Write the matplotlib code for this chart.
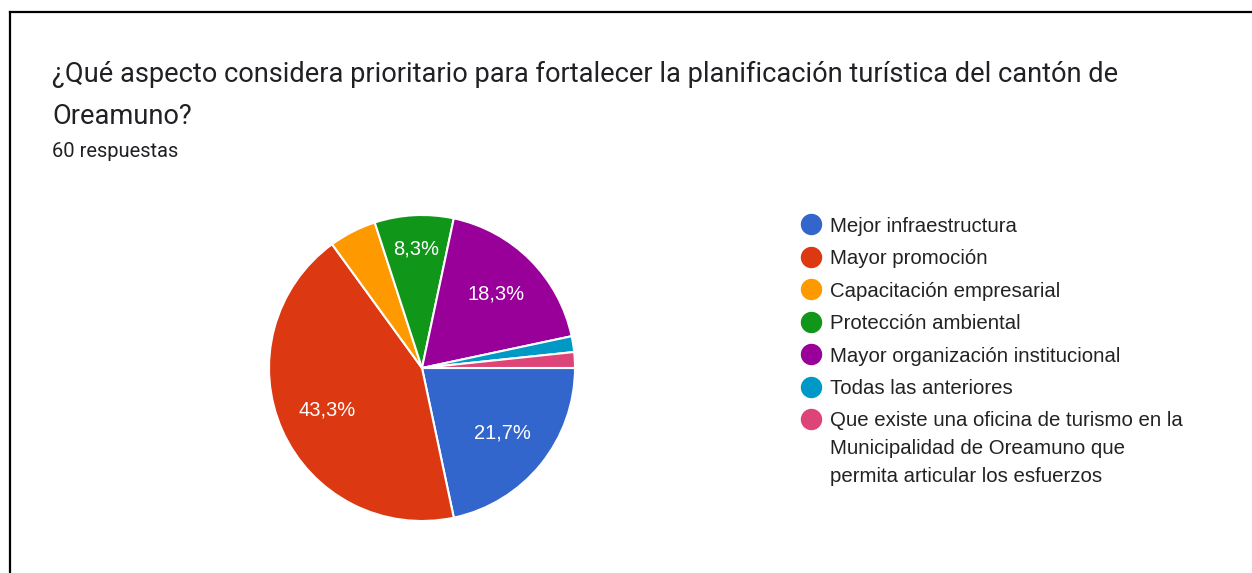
import matplotlib
matplotlib.use("Agg")
import matplotlib.pyplot as plt
from matplotlib.lines import Line2D
import numpy as np

plt.rcParams['font.family'] = ['Roboto', 'DejaVu Sans']

# datos (60 respuestas)
categorias = ["Mejor infraestructura",
              "Mayor promoción",
              "Capacitación empresarial",
              "Protección ambiental",
              "Mayor organización institucional",
              "Todas las anteriores",
              "Que existe una oficina de turismo en la\nMunicipalidad de Oreamuno que\npermita articular los esfuerzos"]
respuestas = [13, 26, 3, 5, 11, 1, 1]
colores = ["#3366cc", "#dc3912", "#ff9900", "#109618", "#990099", "#0099c6", "#dd4477"]

titulo = "¿Qué aspecto considera prioritario para fortalecer la planificación turística del cantón de\nOreamuno?"
subtitulo = "60 respuestas"

W, H = 1252, 573
fig = plt.figure(figsize=(W / 100, H / 100), dpi=100)
fig.patch.set_facecolor("white")

def fx(x):
    return x / W

def fy(y):
    return 1 - y / H

# marco
fig.add_artist(Line2D([fx(10), fx(10)], [fy(12), fy(H)], color="black", lw=1.6))
fig.add_artist(Line2D([fx(10), fx(W)], [fy(12), fy(12)], color="black", lw=1.6))

# titulos
lineas = titulo.split("\n")
fig.text(fx(52), fy(82), lineas[0], fontsize=19.6, color="#202124", va="baseline")
fig.text(fx(52), fy(124), lineas[1], fontsize=19.6, color="#202124", va="baseline")
fig.text(fx(52), fy(157), subtitulo, fontsize=14.5, color="#202124", va="baseline")

# pastel
cx, cy, r = 422, 368, 153
ax = fig.add_axes([fx(cx - r), fy(cy + r), 2 * r / W, 2 * r / H])
total = sum(respuestas)
wedges, _ = ax.pie(respuestas, colors=colores, startangle=0, counterclock=False,
                   wedgeprops=dict(edgecolor="white", linewidth=1.5))
ax.set_xlim(-1, 1)
ax.set_ylim(-1, 1)
ax.axis("off")

for w, v in zip(wedges, respuestas):
    pct = 100 * v / total
    if pct < 6:
        continue
    dist = 0.68 if pct > 10 else 0.78
    ang = np.deg2rad((w.theta1 + w.theta2) / 2)
    etiqueta = ("%.1f%%" % pct).replace(".", ",")
    ax.text(dist * np.cos(ang), dist * np.sin(ang), etiqueta, color="white",
            fontsize=14.5, family="Liberation Sans", ha="center", va="center")

# leyenda
y0 = 224.5
paso = 32.4
for i, (cat, col) in enumerate(zip(categorias, colores)):
    y = y0 + i * paso
    fig.add_artist(Line2D([fx(811)], [fy(y)], marker="o", markersize=14.4,
                          markerfacecolor=col, markeredgecolor=col, linestyle=""))
    for j, parte in enumerate(cat.split("\n")):
        fig.text(fx(830), fy(y + j * 27.8), parte, fontsize=14.7, color="#222222",
                 family="Liberation Sans", va="center_baseline")

fig.savefig("out.png", dpi=100, facecolor="white")
